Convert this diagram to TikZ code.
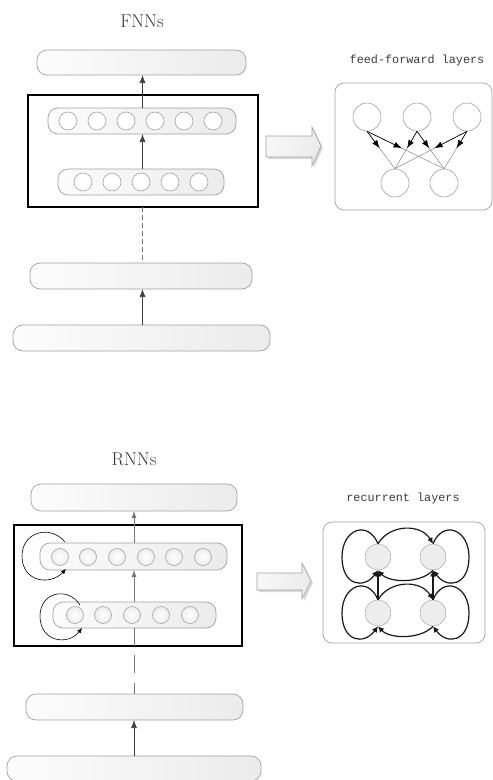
\documentclass[tikz,border=0pt]{standalone}
\usepackage{fontspec}
\newfontfamily\labelmono{Liberation Mono}
\usetikzlibrary{arrows.meta,calc}
\definecolor{bord}{HTML}{A0A0A0}
\definecolor{barL}{HTML}{FCFCFC}
\definecolor{barR}{HTML}{EBEBEB}
\definecolor{txtgray}{HTML}{3A3A3A}
\definecolor{arrgray}{HTML}{777777}
\definecolor{unitfill}{HTML}{EDEDED}
\begin{document}
\begin{tikzpicture}[x=1pt,y=-1pt,
  bar/.style={draw=bord, line width=0.7pt, rounded corners=10pt, left color=barL, right color=barR, inner sep=0pt, outer sep=0pt},
  unit/.style={circle, draw=bord, line width=0.6pt, fill=white, minimum size=18pt, inner sep=0pt},
  runit/.style={circle, draw=bord, line width=0.6pt, inner color=white, outer color=unitfill, minimum size=17pt, inner sep=0pt},
  frame/.style={draw=black, line width=1.4pt, inner sep=0pt, outer sep=0pt},
  panel/.style={draw=bord, line width=0.7pt, rounded corners=9pt, fill=white, inner sep=0pt, outer sep=0pt},
  ffunit/.style={circle, draw=bord, line width=0.6pt, fill=white, minimum size=28pt, inner sep=0pt},
  rrunit/.style={circle, draw=bord!80, line width=0.6pt, fill=unitfill, minimum size=26pt, inner sep=0pt},
  title/.style={font=\fontsize{18.5}{22}\selectfont, text=txtgray},
  plabel/.style={font=\labelmono\fontsize{11.8}{14}\selectfont, text=txtgray},
  uparrow/.style={-{Latex[length=8pt,width=6pt]}, line width=0.7pt, draw=black!75, fill=black},
  grayarrow/.style={-{Latex[length=7pt,width=5pt]}, line width=0.8pt, draw=arrgray, fill=arrgray},
  selfloop/.style={-{Latex[length=5pt,width=4.5pt]}, line width=0.6pt, draw=black},
  ffarrow/.style={-{Latex[length=8pt,width=6pt]}, line width=0.6pt, draw=black},
  ffline/.style={line width=0.4pt, draw=black!55},
  rcurve/.style={-{Latex[length=6pt,width=6pt]}, line width=1.2pt, draw=black!90},
  blockarrow/.style={draw=bord, line width=0.6pt, left color=black!3, right color=black!8}
]
\useasboundingbox (0,0) rectangle (493,780);

%% ================= FNNs =================
\node[title] (ftitle) at (142,21) {FNNs};
\node[bar, minimum width=209pt, minimum height=25pt] (ftop) at (141.5,62.5) {};
\node[frame, minimum width=230pt, minimum height=112pt] (fbox) at (143,151) {};
\node[bar, minimum width=188pt, minimum height=26pt] (fup) at (142,121) {};
\node[bar, minimum width=166pt, minimum height=26pt] (flow) at (141,182) {};
\foreach \i/\x in {1/68,2/97,3/126,4/155,5/184,6/213}
  \node[unit] (fu\i) at (\x,121) {};
\foreach \i/\x in {1/83,2/112,3/141,4/170,5/199}
  \node[unit] (fl\i) at (\x,182) {};
\node[bar, minimum width=222pt, minimum height=26pt] (fb2) at (141,276) {};
\node[bar, minimum width=257pt, minimum height=26pt] (fb1) at (141.5,338) {};
\coordinate (fx) at (142.5,0);
\draw[uparrow] (fx |- fup.north) -- (fx |- ftop.south);
\draw[uparrow] (fx |- flow.north) -- (fx |- fup.south);
\draw[draw=arrgray, line width=0.6pt, dash pattern=on 5pt off 3pt] (fx |- fbox.south) -- (fx |- fb2.north);
\draw[uparrow] (fx |- fb1.north) -- (fx |- fb2.south);

% block arrow
\fill[black!15] (268,138) -- (314,138) -- (314,129) -- (323,148) -- (314,168) -- (314,159) -- (268,159) -- cycle;
\draw[blockarrow] (266,136) -- (312,136) -- (312,127) -- (321,146) -- (312,166) -- (312,157) -- (266,157) -- cycle;

% right panel
\node[plabel] (fflabel) at (417,60) {feed-forward layers};
\node[panel, minimum width=157pt, minimum height=127pt] (ffpanel) at (413.5,146.5) {};
\foreach \i/\x in {1/367,2/417,3/467}
  \node[ffunit] (ft\i) at (\x,117) {};
\foreach \j/\x in {1/395,2/444}
  \node[ffunit] (fbt\j) at (\x,183) {};
\foreach \i in {1,2,3}
  \foreach \j in {1,2} {
    \draw[ffline] (ft\i.south) -- (fbt\j.north);
    \draw[ffarrow] (ft\i.south) -- ($(ft\i.south)!0.45!(fbt\j.north)$);
  }

%% ================= RNNs =================
\node[title] (rtitle) at (134,459) {RNNs};
\node[bar, minimum width=206pt, minimum height=27pt] (rtop) at (134,497.5) {};
\node[frame, minimum width=228pt, minimum height=121pt] (rbox) at (128,585.5) {};
\node[bar, minimum width=187pt, minimum height=27pt] (rup) at (133.5,556.5) {};
\node[bar, minimum width=163pt, minimum height=26pt] (rlow) at (134.5,615) {};
\foreach \i/\x in {1/60,2/88,3/117,4/146,5/174,6/203}
  \node[runit] (ru\i) at (\x,557) {};
\foreach \i/\x in {1/75,2/103,3/132,4/161,5/190}
  \node[runit] (rl\i) at (\x,615) {};
\node[bar, minimum width=217pt, minimum height=26pt] (rb2) at (134.5,707) {};
\node[bar, minimum width=254pt, minimum height=25pt] (rb1) at (134,768.5) {};
\coordinate (rx) at (134,0);
\draw[grayarrow] (rx |- rup.north) -- (rx |- rtop.south);
\draw[grayarrow] (rx |- rlow.north) -- (rx |- rup.south);
\draw[draw=arrgray, line width=0.8pt] (rx |- rlow.south) -- (rx |- rbox.south);
\draw[draw=arrgray, line width=0.8pt, dash pattern=on 18pt off 10pt, dash phase=19pt] (rx |- rbox.south) -- (rx |- rb2.north);
\draw[uparrow] (rx |- rb1.north) -- (rx |- rb2.south);

% self loops
\coordinate (ls1) at (65,542);
\coordinate (le1) at (66,569);
\draw[selfloop] (ls1) .. controls (50,524) and (22,532) .. (22,556) .. controls (22,582) and (50,586) .. (le1);
\coordinate (ls2) at (80,605);
\coordinate (le2) at (82,628);
\draw[selfloop] (ls2) .. controls (68,586) and (40,592) .. (40,616) .. controls (40,642) and (68,646) .. (le2);

% block arrow
\fill[black!15] (259,575) -- (304,575) -- (304,565) -- (313,583) -- (304,601) -- (304,592) -- (259,592) -- cycle;
\draw[blockarrow] (257,573) -- (302,573) -- (302,563) -- (311,581) -- (302,599) -- (302,590) -- (257,590) -- cycle;

% right panel
\node[plabel] (rrlabel) at (403,498) {recurrent layers};
\node[panel, minimum width=162pt, minimum height=121pt] (rrpanel) at (404,582.5) {};
\node[rrunit] (TL) at (378,557) {};
\node[rrunit] (TR) at (433,557) {};
\node[rrunit] (BL) at (378,613) {};
\node[rrunit] (BR) at (433,613) {};
\foreach \L/\R in {TL/TR,BL/BR} {
  \draw[rcurve] (\L.north) .. controls +(12,-20) and +(-12,-20) .. (\R.north);
  \draw[rcurve] (\R.south) .. controls +(-12,13) and +(12,13) .. (\L.south);
  \draw[rcurve] (\L.north) .. controls +(-10,-24) and +(0,-28) .. ($(\L)+(-36,0)$) .. controls +(0,29) and +(-14,19) .. (\L.south);
  \draw[rcurve] (\R.north) .. controls +(10,-24) and +(0,-28) .. ($(\R)+(36,0)$) .. controls +(0,29) and +(14,19) .. (\R.south);
}
\draw[rcurve] (BL.north) -- (TL.south);
\draw[rcurve] (BR.north) -- (TR.south);
\end{tikzpicture}
\end{document}
